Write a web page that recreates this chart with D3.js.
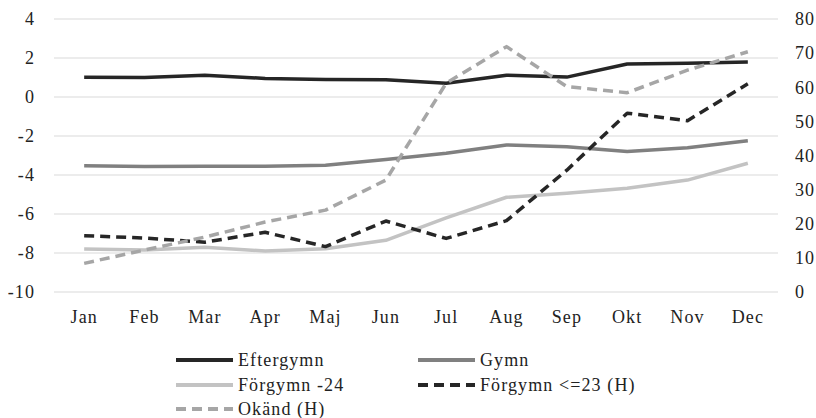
<!DOCTYPE html>
<html>
<head>
<meta charset="utf-8">
<script src="https://cdn.jsdelivr.net/npm/d3@7"></script>
<style>
  body { margin: 0; background: #fff; }
  svg text { font-family: "Liberation Serif", "Times New Roman", serif; font-size: 18px; fill: #222; letter-spacing: 1.1px; }
</style>
</head>
<body>
<svg id="chart" width="816" height="418"></svg>
<script>
const months = ['Jan', 'Feb', 'Mar', 'Apr', 'Maj', 'Jun', 'Jul', 'Aug', 'Sep', 'Okt', 'Nov', 'Dec']
const leftTicks = [-10, -8, -6, -4, -2, 0, 2, 4]
const rightTicks = [0, 10, 20, 30, 40, 50, 60, 70, 80]

// left axis series
const eftergymn = [1.01, 1.0, 1.12, 0.95, 0.9, 0.88, 0.7, 1.12, 1.02, 1.69, 1.73, 1.79]
const gymn = [-3.52, -3.56, -3.55, -3.55, -3.5, -3.2, -2.89, -2.46, -2.55, -2.8, -2.6, -2.24]
const forgymn24 = [-7.79, -7.85, -7.7, -7.9, -7.78, -7.35, -6.2, -5.14, -4.94, -4.68, -4.26, -3.4]
// right axis series (H)
const forgymn23 = [16.5, 15.8, 14.6, 17.5, 13.3, 20.8, 15.7, 20.9, 35.7, 52.4, 50.2, 61]
const okand = [8.4, 12.3, 16.1, 20.5, 24, 32.8, 61.2, 71.9, 60.2, 58.4, 65, 70.4]

const series = [
  { name: 'Eftergymn', values: eftergymn, axis: 'L', color: '#262626', dash: null },
  { name: 'Gymn', values: gymn, axis: 'L', color: '#808080', dash: null },
  { name: 'Förgymn -24', values: forgymn24, axis: 'L', color: '#c3c3c3', dash: null },
  { name: 'Förgymn <=23 (H)', values: forgymn23, axis: 'R', color: '#262626', dash: '10,6' },
  { name: 'Okänd (H)', values: okand, axis: 'R', color: '#a6a6a6', dash: '10,6' }
]

const svg = d3.select('#chart')
const plotLeft = 54, plotRight = 778, plotTop = 19, plotBottom = 292

const x = d3.scaleBand().domain(months).range([plotLeft, plotRight]).padding(0)
const cx = d => x(d) + x.bandwidth() / 2
const yL = d3.scaleLinear().domain([-10, 4]).range([plotBottom, plotTop])
const yR = d3.scaleLinear().domain([0, 80]).range([plotBottom, plotTop])

// Gridlines
svg.append('g').selectAll('line').data(leftTicks).enter().append('line')
  .attr('x1', plotLeft).attr('x2', plotRight)
  .attr('y1', d => yL(d)).attr('y2', d => yL(d))
  .attr('stroke', '#d9d9d9').attr('stroke-width', 1)

// Axes without domain lines or ticks; plain hyphen for negatives like the source
const gL = svg.append('g').attr('transform', `translate(${plotLeft},0)`)
  .call(d3.axisLeft(yL).tickValues(leftTicks).tickSize(0).tickPadding(19).tickFormat(d => String(d)))
const gR = svg.append('g').attr('transform', `translate(${plotRight},0)`)
  .call(d3.axisRight(yR).tickValues(rightTicks).tickSize(0).tickPadding(17).tickFormat(d => String(d)))
const gB = svg.append('g').attr('transform', `translate(0,${plotBottom})`)
  .call(d3.axisBottom(x).tickSize(0).tickPadding(18))
;[gL, gR, gB].forEach(g => {
  g.select('.domain').remove()
  g.attr('font-family', null).attr('font-size', null)
  g.selectAll('text').attr('fill', '#222')
})

// Lines
series.forEach(s => {
  const y = s.axis === 'L' ? yL : yR
  const line = d3.line().x((d, i) => cx(months[i])).y(d => y(d))
  svg.append('path')
    .datum(s.values)
    .attr('d', line)
    .attr('fill', 'none')
    .attr('stroke', s.color)
    .attr('stroke-width', 3.5)
    .attr('stroke-linejoin', 'round')
    .attr('stroke-dasharray', s.dash)
})

// Legend
const legendPos = [[176, 360], [418, 360], [176, 385], [418, 385], [176, 409]]
series.forEach((s, i) => {
  const [lx, ly] = legendPos[i]
  const g = svg.append('g').attr('transform', `translate(${lx},${ly})`)
  g.append('line')
    .attr('x1', 0).attr('x2', 57).attr('y1', 0).attr('y2', 0)
    .attr('stroke', s.color).attr('stroke-width', 4)
    .attr('stroke-dasharray', s.dash)
  g.append('text').attr('x', 62).attr('dy', '0.35em').text(s.name)
})
</script>
</body>
</html>
